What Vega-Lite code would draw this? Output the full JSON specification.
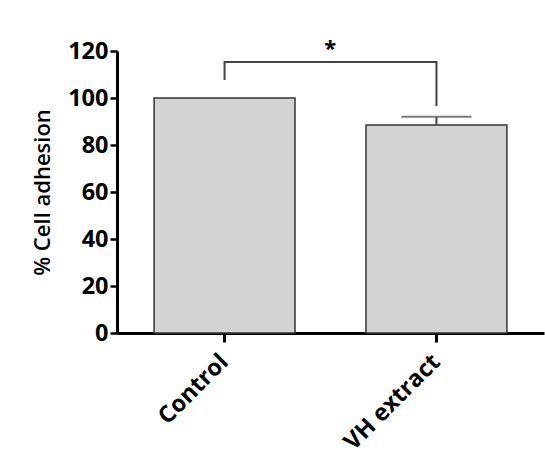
{
  "$schema": "https://vega.github.io/schema/vega-lite/v6.json",
  "width": 427,
  "height": 282,
  "autosize": "none",
  "padding": {"left": 117, "top": 51, "right": 1, "bottom": 138},
  "background": "white",
  "config": {
    "view": {"stroke": null},
    "font": "Open Sans"
  },
  "datasets": {
    "bars": [
      {"group": "Control", "value": 100},
      {"group": "VH extract", "value": 88.5, "upper": 92}
    ],
    "bracket": [
      {"group": "Control", "y": 107.7, "order": 1},
      {"group": "Control", "y": 115.3, "order": 2},
      {"group": "VH extract", "y": 115.3, "order": 3},
      {"group": "VH extract", "y": 96.6, "order": 4}
    ],
    "star": [
      {"group": "Control", "y": 121, "label": "*"}
    ]
  },
  "encoding": {
    "x": {
      "field": "group",
      "type": "nominal",
      "sort": ["Control", "VH extract"],
      "scale": {"domain": ["Control", "VH extract"], "paddingInner": 0.335, "paddingOuter": 0.175},
      "axis": {
        "title": null,
        "labelAngle": -45,
        "labelAlign": "right",
        "labelBaseline": "middle",
        "labelFont": "Open Sans",
        "labelFontWeight": "bold",
        "labelFontSize": 23.5,
        "labelColor": "black",
        "labelPadding": 16,
        "domainColor": "black",
        "domainWidth": 3,
        "tickColor": "black",
        "tickWidth": 3,
        "tickSize": 9
      }
    }
  },
  "layer": [
    {
      "data": {"name": "bars"},
      "mark": {"type": "bar", "fill": "#d3d3d3", "stroke": "#333333", "strokeWidth": 1.5},
      "encoding": {
        "y": {
          "field": "value",
          "type": "quantitative",
          "scale": {"domain": [0, 120], "nice": false},
          "axis": {
            "title": "% Cell adhesion",
            "titleFont": "Open Sans",
            "titleFontSize": 22,
            "titleFontWeight": 600,
            "titleColor": "black",
            "titlePadding": 13,
            "values": [0, 20, 40, 60, 80, 100, 120],
            "grid": false,
            "labelFont": "Open Sans",
            "labelFontWeight": "bold",
            "labelFontSize": 23.5,
            "labelColor": "black",
            "labelPadding": 2,
            "domainColor": "black",
            "domainWidth": 3,
            "tickColor": "black",
            "tickWidth": 2.5,
            "tickSize": 7
          }
        }
      }
    },
    {
      "data": {"name": "bars"},
      "transform": [{"filter": "isValid(datum.upper)"}],
      "mark": {"type": "rule", "stroke": "#444444", "strokeWidth": 2},
      "encoding": {
        "y": {"field": "value", "type": "quantitative"},
        "y2": {"field": "upper"}
      }
    },
    {
      "data": {"name": "bars"},
      "transform": [{"filter": "isValid(datum.upper)"}],
      "mark": {"type": "tick", "color": "#444444", "thickness": 2, "size": 70, "orient": "horizontal"},
      "encoding": {
        "y": {"field": "upper", "type": "quantitative"}
      }
    },
    {
      "data": {"name": "bracket"},
      "mark": {"type": "line", "stroke": "#444444", "strokeWidth": 2, "strokeJoin": "miter"},
      "encoding": {
        "y": {"field": "y", "type": "quantitative"},
        "order": {"field": "order", "type": "quantitative"}
      }
    },
    {
      "data": {"name": "star"},
      "mark": {"type": "text", "fontSize": 22, "fontWeight": "bold", "color": "black", "baseline": "middle", "align": "center"},
      "encoding": {
        "x": {"field": "group", "type": "nominal", "bandPosition": 1.25},
        "y": {"field": "y", "type": "quantitative"},
        "text": {"field": "label"}
      }
    }
  ]
}
